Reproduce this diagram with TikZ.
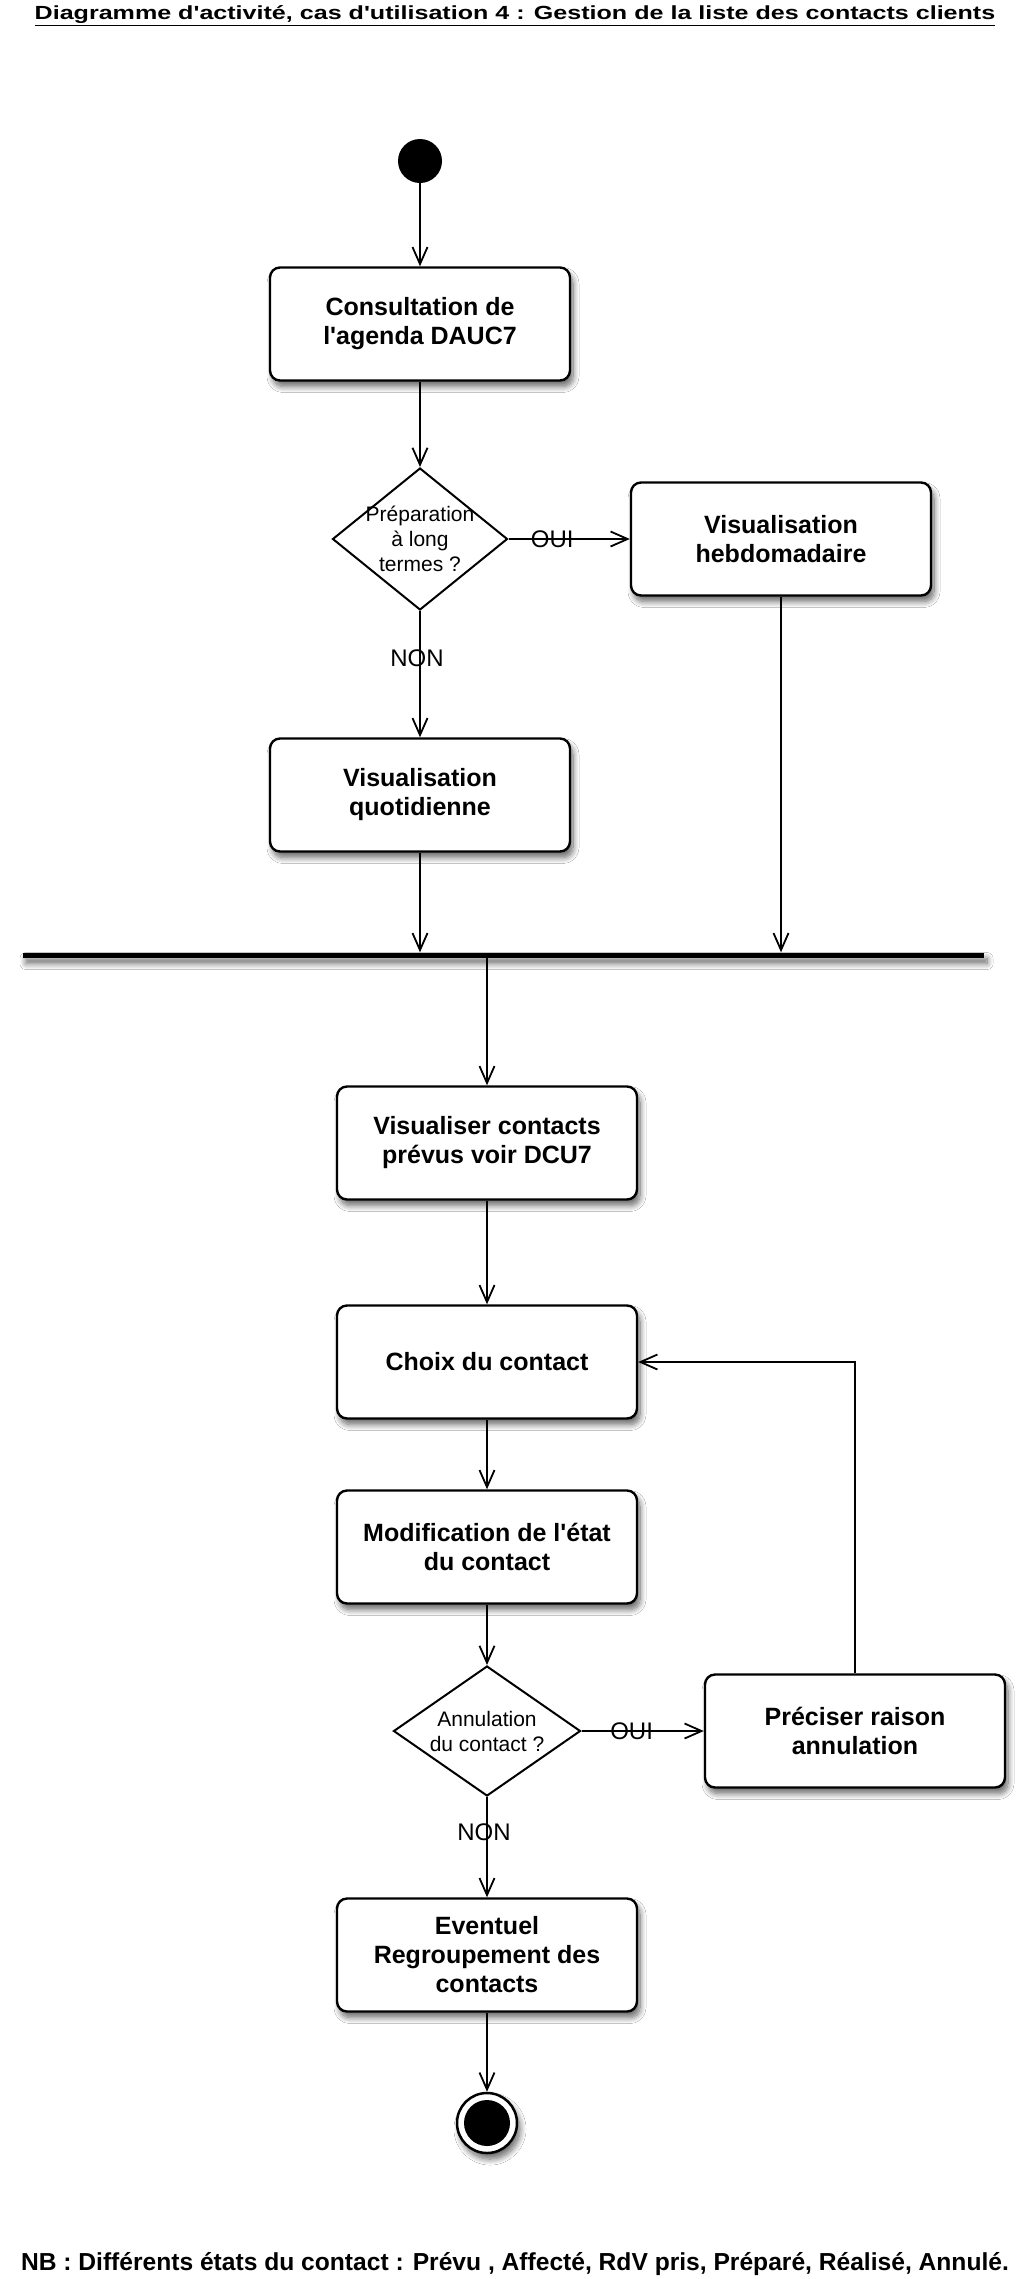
\documentclass[tikz,border=0pt]{standalone}
\usepackage{fontspec}
\setmainfont{Liberation Sans}[Ligatures=TeXReset]
\usetikzlibrary{shapes.geometric,arrows.meta,shadows.blur}
\newcommand\acttext{\bfseries\fontsize{25}{29}\selectfont}
\begin{document}
\begin{tikzpicture}[x=1pt,y=-1pt,
  shad/.style={blur shadow={shadow xshift=3pt,shadow yshift=-6pt,shadow blur radius=6pt,shadow blur steps=10,shadow opacity=60}},
  act/.style={draw,line width=2.4pt,rounded corners=10pt,fill=white,minimum width=300pt,minimum height=113pt,align=center,font=\acttext,inner sep=0pt,shad},
  dec/.style={diamond,draw,line width=2pt,fill=white,inner sep=0pt},
  dtext/.style={align=center,font=\fontsize{21}{25}\selectfont,inner sep=0pt},
  flow/.style={line width=1.8pt,-{Straight Barb[length=17pt,width=15pt,line width=1.8pt]}},
  lab/.style={font=\fontsize{24}{28}\selectfont,inner sep=0pt},
]
\useasboundingbox (0,0) rectangle (1031,2279);
\fill[white] (0,0) rectangle (1031,2279);

% title and note
\node[inner sep=0pt] (title) at (515,16) {\scalebox{1.32}[1]{\fontsize{19}{23}\selectfont\bfseries\underline{Diagramme d'activité, cas d'utilisation 4 : Gestion de la liste des contacts clients}}};
\node[inner sep=0pt] (nb) at (515,2264) {\fontsize{24.6}{29}\selectfont\bfseries NB : Différents états du contact : Prévu , Affecté, RdV pris, Préparé, Réalisé, Annulé.};

% nodes
\node[circle,fill=black,minimum size=44pt,inner sep=0pt] (start) at (420,161) {};
\node[act] (c1) at (420,324) {Consultation de\\l'agenda DAUC7};
\node[dec,minimum width=175pt,minimum height=142pt] (d1) at (420,539) {};
\node[dtext] (d1t) at (d1.center) {Préparation\\à long\\termes ?};
\node[act] (vh) at (781,539) {Visualisation\\hebdomadaire};
\node[act] (vq) at (420,795) {Visualisation\\quotidienne};
\node[rectangle,fill=black,minimum width=961pt,minimum height=5pt,inner sep=0pt,shad] (bar) at (503.5,955) {};
\node[act] (vc) at (487,1143) {Visualiser contacts\\prévus voir DCU7};
\node[act] (ch) at (487,1362) {Choix du contact};
\node[act] (mo) at (487,1547) {Modification de l'état\\du contact};
\node[dec,minimum width=187pt,minimum height=130pt] (d2) at (487,1731) {};
\node[dtext] (d2t) at (d2.center) {Annulation\\du contact ?};
\node[act] (pr) at (855,1731) {Préciser raison\\annulation};
\node[act] (ev) at (487,1955) {Eventuel\\Regroupement des\\contacts};
\node[circle,draw,line width=2.5pt,fill=white,minimum size=60pt,inner sep=0pt,shad,
  path picture={\fill[black] (path picture bounding box.center) circle (23pt);}] (end) at (487,2123) {};

% connectors
\draw[flow] (start) -- (c1);
\draw[flow] (c1) -- (d1.north);
\draw[flow] (d1.east) -- node[lab,pos=0.36] {OUI} (vh.west);
\draw[flow] (d1.south) -- node[lab,pos=0.37,xshift=-3pt] {NON} (vq.north);
\draw[flow] (vq.south) -- (vq.south |- bar.north);
\draw[flow] (vh.south) -- (vh.south |- bar.north);
\draw[flow] (bar.south -| vc.north) -- (vc.north);
\draw[flow] (vc) -- (ch);
\draw[flow] (ch) -- (mo);
\draw[flow] (mo) -- (d2.north);
\draw[flow] (d2.east) -- node[lab,pos=0.41] {OUI} (pr.west);
\draw[flow] (d2.south) -- node[lab,pos=0.35,xshift=-3pt] {NON} (ev.north);
\draw[flow] (pr.north) |- (ch.east);
\draw[flow] (ev) -- (end);
\end{tikzpicture}
\end{document}
